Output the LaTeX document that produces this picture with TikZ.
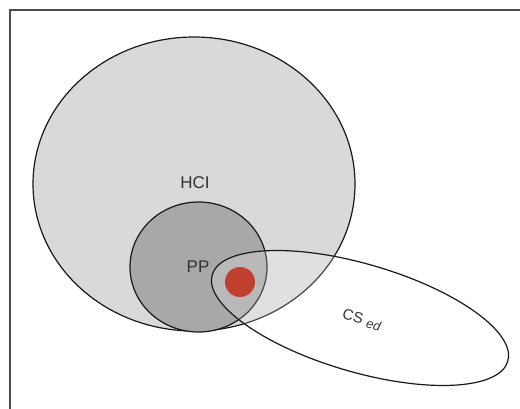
\documentclass[tikz,border=0pt]{standalone}
\usepackage{fontspec}
\setmainfont{Liberation Sans}
\begin{document}
\begin{tikzpicture}[x=1pt,y=1pt,
  outline/.style={draw=black!90, line width=1.2pt},
  lbl/.style={font=\fontsize{17}{19}\selectfont, text=black!80, inner sep=0pt}]
\useasboundingbox (0,-409) rectangle (520,0);
\draw[draw=black!70, line width=1.3pt] (10,-409) -- (10,-10) -- (520,-10);
\draw[outline, fill=black!15] (194,-184) ellipse [x radius=161, y radius=147];
\draw[outline, fill=black!34] (198.5,-267) ellipse [x radius=68.5, y radius=65];
\draw[outline, fill=white, fill opacity=0.2] (360,-318) ellipse [x radius=154, y radius=54, rotate=-16.3];
\fill[fill={rgb,255:red,192;green,64;blue,48}] (240,-282) circle [radius=15];
\node[lbl] (hci) at (195,-183) {HCI};
\node[lbl] (pp) at (198,-267) {PP};
\node[lbl, rotate=-15] (cs) at (362,-320) {{\fontsize{15}{16}\selectfont CS}\ {\fontsize{13}{14}\selectfont\raisebox{-3pt}{\textit{ed}}}};
\end{tikzpicture}
\end{document}
